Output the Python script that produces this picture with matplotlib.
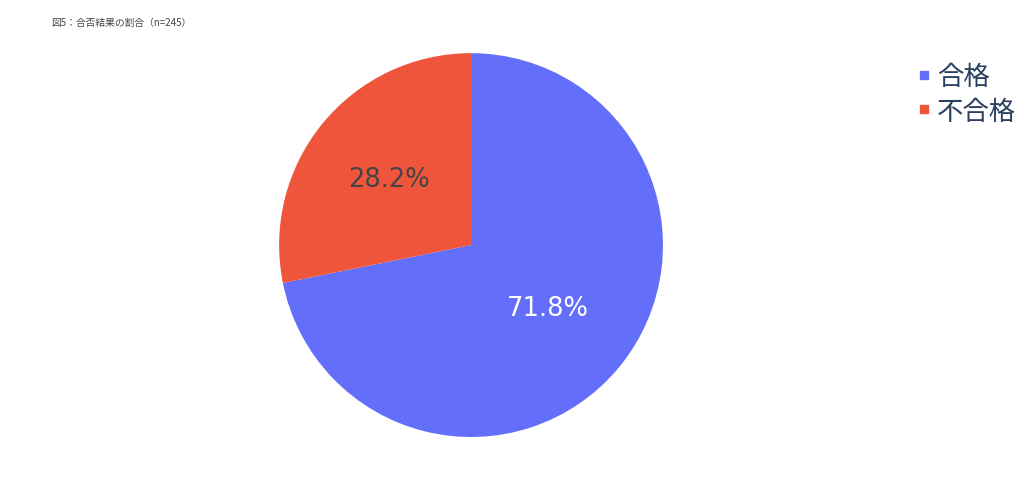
import matplotlib
matplotlib.use("Agg")
from matplotlib import pyplot as plt
from matplotlib.lines import Line2D

plt.rcParams['font.family'] = ['Noto Sans CJK JP', 'DejaVu Sans']

labels = ["合格", "不合格"]
counts = [176, 69]
colors = ["#636efa", "#ef553b"]
title = "図5：合否結果の割合（n=245）"

fig = plt.figure(figsize=(10.24, 4.81), dpi=100)
ax = fig.add_axes([0.2725, 0.0894, 0.375, 0.798])

wedges, texts, autotexts = ax.pie(counts, colors=colors, startangle=90, counterclock=False,
                                  autopct="%1.1f%%", pctdistance=0.52,
                                  textprops=dict(fontsize=18.5, family="DejaVu Sans"))
ax.set_aspect("equal")
ax.set_xlim(-1, 1)
ax.set_ylim(-1, 1)

# plotly-like text colours / positions
autotexts[0].set_color("white")
autotexts[1].set_color("#444444")
x, y = autotexts[1].get_position()
autotexts[1].set_position((x * 1.06, y * 1.04))

fig.text(0.05, 0.953, title, fontsize=7, color="#444444", va="center")

handles = [Line2D([0], [0], marker="s", linestyle="", markersize=6, color=c) for c in colors]
leg = fig.legend(handles, labels, loc="upper left", bbox_to_anchor=(0.866, 0.916),
                 frameon=False, fontsize=19, handletextpad=0.0, labelspacing=0.28,
                 handlelength=1.0)
for t in leg.get_texts():
    t.set_color("#2a3f5f")

fig.savefig("out.png", dpi=100)
